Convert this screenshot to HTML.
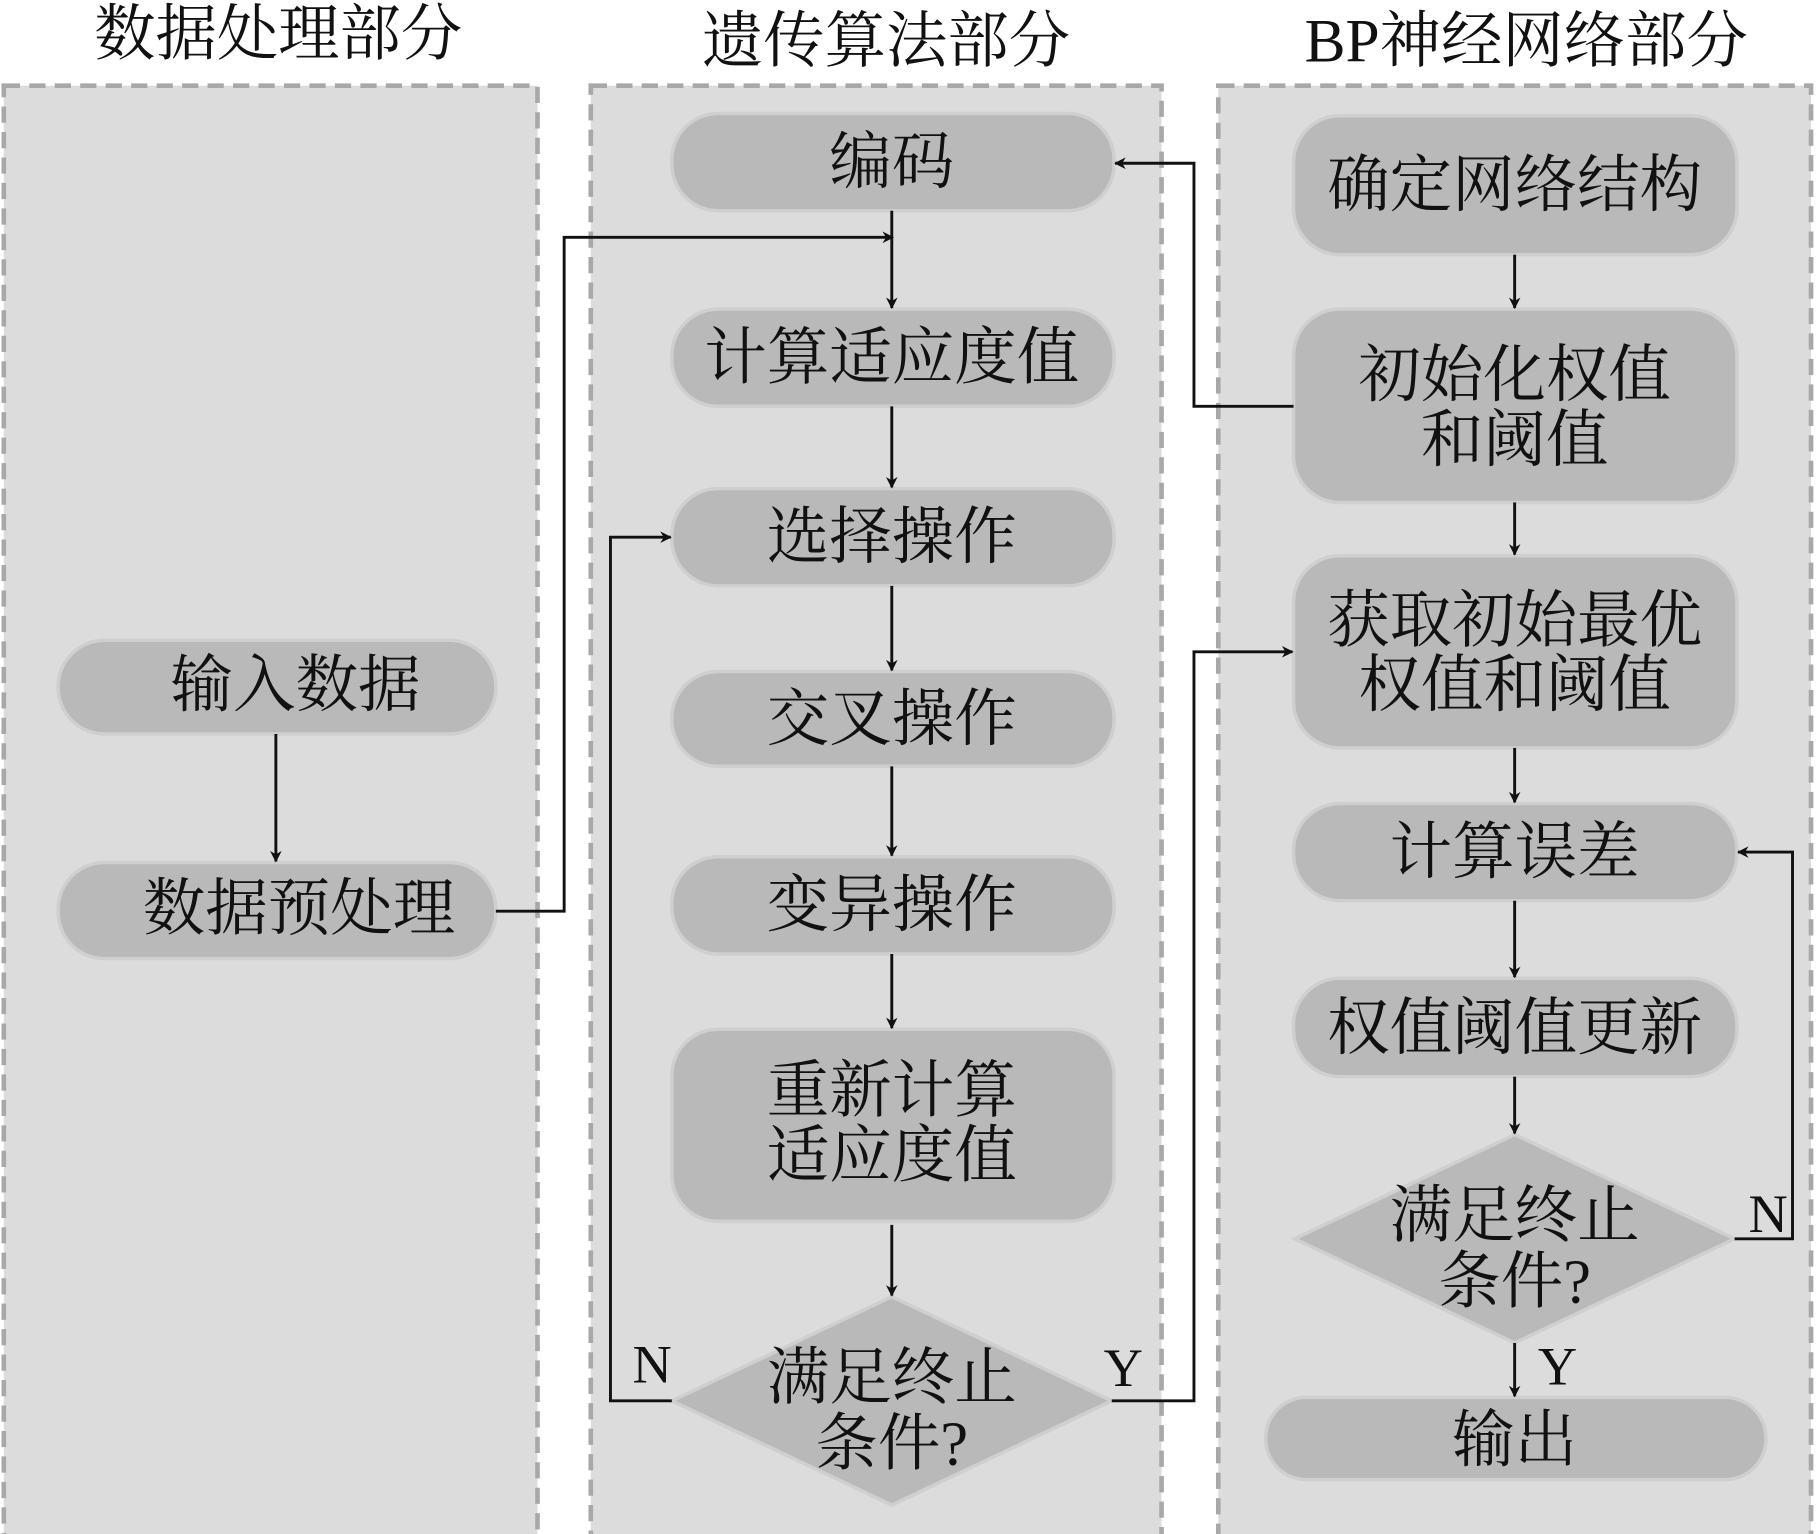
<!DOCTYPE html>
<html><head><meta charset="utf-8"><style>
html,body{margin:0;padding:0;background:#fff;}
svg{display:block;}
text{font-family:"Liberation Serif","Noto Serif CJK SC","Noto Sans CJK SC",serif;fill:#111;text-anchor:middle;}
</style></head><body>
<svg width="1816" height="1534" viewBox="0 0 1568 1325" xmlns="http://www.w3.org/2000/svg">
<defs><marker id="a" markerWidth="10" markerHeight="10" refX="9" refY="5" orient="auto" markerUnits="userSpaceOnUse"><path d="M0,0 L10,5 L0,10 L3,5 Z" fill="#111"/></marker></defs>
<g fill="#dcdcdc" stroke="#a8a8a8" stroke-width="4" stroke-dasharray="14,8">
<rect x="3" y="74" width="461" height="1260"/>
<rect x="510" y="74" width="493" height="1260"/>
<rect x="1052" y="74" width="512" height="1260"/>
</g>
<g font-size="53">
<text x="240" y="47">数据处理部分</text>
<text x="765" y="53">遗传算法部分</text>
<text x="1318" y="53">BP神经网络部分</text>
</g>
<g fill="#b9b9b9" stroke="#cfcfcf" stroke-width="3">
<rect x="580" y="98" width="382" height="84" rx="40"/>
<rect x="580" y="267" width="382" height="84" rx="40"/>
<rect x="580" y="422" width="382" height="84" rx="40"/>
<rect x="580" y="580" width="382" height="82" rx="40"/>
<rect x="580" y="740" width="382" height="84" rx="40"/>
<rect x="580" y="889" width="382" height="166" rx="40"/>
<polygon points="770,1120 960,1210 770,1300 580,1210"/>
<rect x="50" y="553" width="378" height="81" rx="40"/>
<rect x="50" y="745" width="378" height="83" rx="40"/>
<rect x="1117" y="100" width="383" height="120" rx="40"/>
<rect x="1117" y="267" width="383" height="167" rx="40"/>
<rect x="1117" y="480" width="383" height="166" rx="40"/>
<rect x="1117" y="694" width="383" height="84" rx="40"/>
<rect x="1117" y="845" width="383" height="85" rx="40"/>
<polygon points="1308,980 1498,1070 1308,1160 1118,1070"/>
<rect x="1093" y="1207" width="432" height="71" rx="35"/>
</g>
<g font-size="54">
<text x="770" y="158">编码</text>
<text x="770" y="327">计算适应度值</text>
<text x="770" y="482">选择操作</text>
<text x="770" y="639">交叉操作</text>
<text x="770" y="800">变异操作</text>
<text x="770" y="960">重新计算</text>
<text x="770" y="1016">适应度值</text>
<text x="770" y="1208">满足终止</text>
<text x="770" y="1265">条件?</text>
<text x="255" y="610">输入数据</text>
<text x="258" y="803">数据预处理</text>
<text x="1308" y="178">确定网络结构</text>
<text x="1308" y="342">初始化权值</text>
<text x="1308" y="398">和阈值</text>
<text x="1308" y="554">获取初始最优</text>
<text x="1308" y="610">权值和阈值</text>
<text x="1308" y="754">计算误差</text>
<text x="1308" y="906">权值阈值更新</text>
<text x="1308" y="1068">满足终止</text>
<text x="1308" y="1125">条件?</text>
<text x="1308" y="1262">输出</text>
<text x="563" y="1194" font-size="47">N</text>
<text x="970" y="1197" font-size="47">Y</text>
<text x="1345" y="1196" font-size="47">Y</text>
<text x="1527" y="1064" font-size="47">N</text>
</g>
<g stroke="#111" stroke-width="2.5" fill="none" marker-end="url(#a)">
<line x1="238" y1="634" x2="238" y2="744"/>
<polyline points="428,787 487,787 487,205 771,205"/>
<line x1="770" y1="182" x2="770" y2="266"/>
<line x1="770" y1="351" x2="770" y2="421"/>
<line x1="770" y1="506" x2="770" y2="579"/>
<line x1="770" y1="662" x2="770" y2="739"/>
<line x1="770" y1="824" x2="770" y2="888"/>
<line x1="770" y1="1058" x2="770" y2="1119"/>
<polyline points="580,1210 527,1210 527,464 579,464"/>
<polyline points="960,1210 1031,1210 1031,563 1116,563"/>
<polyline points="1117,351 1031,351 1031,141 963,141"/>
<line x1="1308" y1="220" x2="1308" y2="266"/>
<line x1="1308" y1="434" x2="1308" y2="479"/>
<line x1="1308" y1="646" x2="1308" y2="693"/>
<line x1="1308" y1="778" x2="1308" y2="844"/>
<line x1="1308" y1="930" x2="1308" y2="979"/>
<line x1="1308" y1="1160" x2="1308" y2="1206"/>
<polyline points="1498,1070 1548,1070 1548,736 1501,736"/>
</g>
</svg>
</body></html>
